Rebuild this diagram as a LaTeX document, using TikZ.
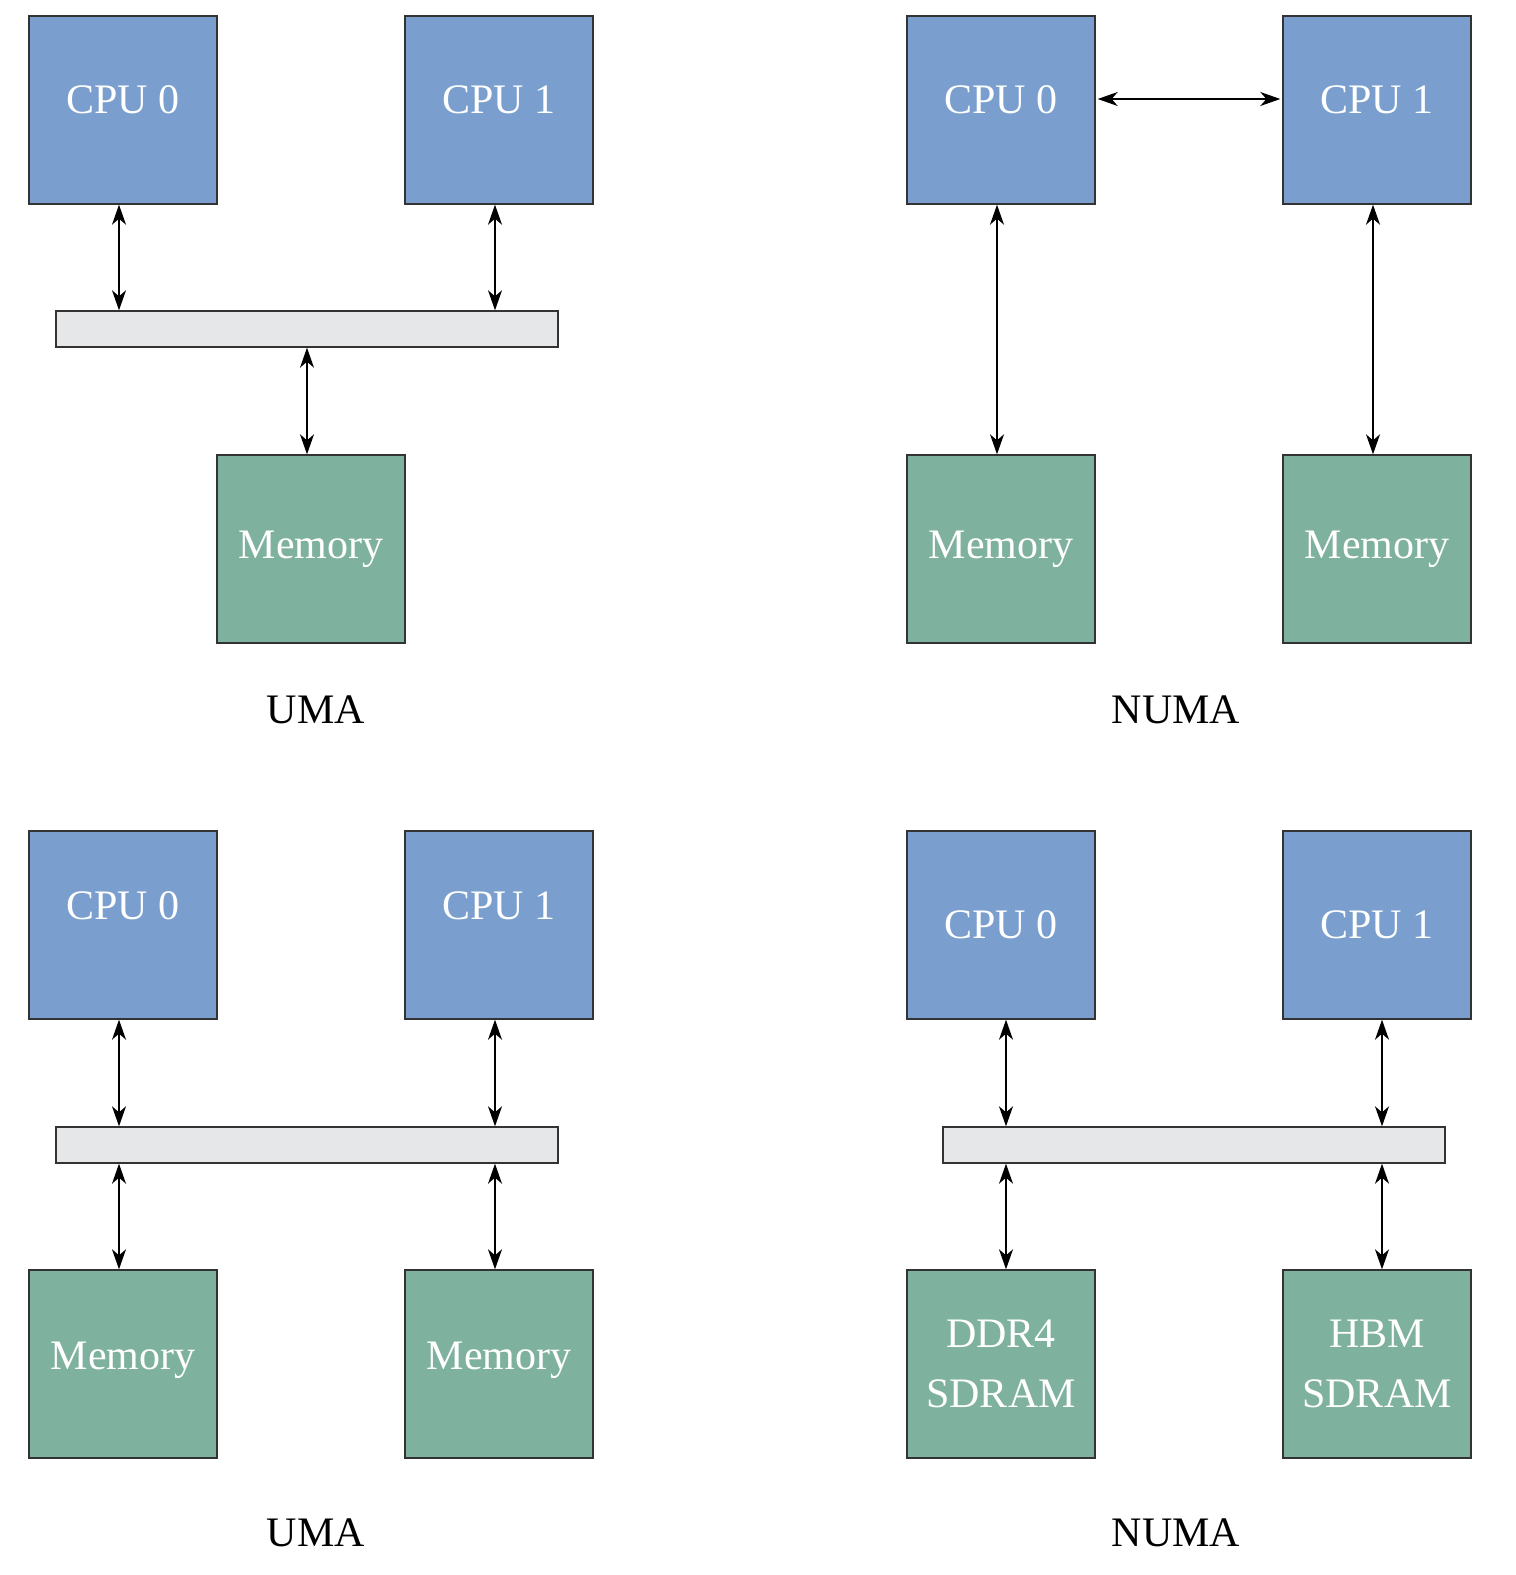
\documentclass[tikz,border=0pt]{standalone}
\usepackage{fontspec}
\setmainfont{Liberation Serif}
\usepackage{xcolor}
\usepackage{tikz}
\usetikzlibrary{arrows.meta, positioning}

\definecolor{cpublue}{HTML}{7A9FCE}
\definecolor{memgreen}{HTML}{7FB19F}
\definecolor{busgray}{HTML}{E6E7E8}
\definecolor{edgegray}{HTML}{333333}

\begin{document}
\begin{tikzpicture}[
    x=0.5pt, y=-0.5pt,
    cpu/.style={
        rectangle, draw=edgegray,
        line width=0.7pt,
        fill=cpublue,
        text=white,
        minimum width=94pt,
        minimum height=94pt,
        inner sep=0pt,
        font=\fontsize{21}{30}\selectfont
    },
    mem/.style={
        cpu,
        fill=memgreen,
        align=center
    },
    bus/.style={
        rectangle, draw=edgegray,
        line width=0.7pt,
        fill=busgray,
        minimum width=251pt,
        minimum height=18pt,
        inner sep=0pt
    },
    caption/.style={font=\fontsize{21}{25}\selectfont, inner sep=0pt},
    arrow/.style={{Stealth[length=10pt,width=7pt,inset=3pt]}-{Stealth[length=10pt,width=7pt,inset=3pt]}, line width=0.7pt}
]

\useasboundingbox (0,0) rectangle (1516,1575);

% UMA, shared memory
\node [cpu, text depth=10pt] (ua-cpu0) at (123,110) {CPU 0};
\node [cpu, text depth=10pt] (ua-cpu1) at (499,110) {CPU 1};
\node [bus] (ua-bus) at (307,329) {};
\node [mem] (ua-mem) at (311,549) {Memory};
\node [caption] (ua-label) at (316,710) {UMA};

\draw [arrow] ([xshift=-2pt]ua-cpu0.south) -- ([xshift=-2pt]ua-cpu0.south |- ua-bus.north);
\draw [arrow] ([xshift=-2pt]ua-cpu1.south) -- ([xshift=-2pt]ua-cpu1.south |- ua-bus.north);
\draw [arrow] ([xshift=-2pt]ua-mem.north |- ua-bus.south) -- ([xshift=-2pt]ua-mem.north);

% NUMA, local memories
\node [cpu, text depth=10pt] (na-cpu0) at (1001,110) {CPU 0};
\node [cpu, text depth=10pt] (na-cpu1) at (1377,110) {CPU 1};
\node [mem] (na-mem0) at (1001,549) {Memory};
\node [mem] (na-mem1) at (1377,549) {Memory};
\node [caption] (na-label) at (1176,710) {NUMA};

\draw [arrow] ([shift={(1pt,5.5pt)}]na-cpu0.east) -- ([shift={(-1pt,5.5pt)}]na-cpu1.west);
\draw [arrow] ([xshift=-2pt]na-cpu0.south) -- ([xshift=-2pt]na-mem0.north);
\draw [arrow] ([xshift=-2pt]na-cpu1.south) -- ([xshift=-2pt]na-mem1.north);

% UMA, two memories on the bus
\node [cpu, text depth=19pt] (ub-cpu0) at (123,925) {CPU 0};
\node [cpu, text depth=19pt] (ub-cpu1) at (499,925) {CPU 1};
\node [bus] (ub-bus) at (307,1145) {};
\node [mem, text depth=8pt] (ub-mem0) at (123,1364) {Memory};
\node [mem, text depth=8pt] (ub-mem1) at (499,1364) {Memory};
\node [caption] (ub-label) at (316,1533) {UMA};

\draw [arrow] ([xshift=-2pt]ub-cpu0.south) -- ([xshift=-2pt]ub-cpu0.south |- ub-bus.north);
\draw [arrow] ([xshift=-2pt]ub-cpu1.south) -- ([xshift=-2pt]ub-cpu1.south |- ub-bus.north);
\draw [arrow] ([xshift=-2pt]ub-mem0.north |- ub-bus.south) -- ([xshift=-2pt]ub-mem0.north);
\draw [arrow] ([xshift=-2pt]ub-mem1.north |- ub-bus.south) -- ([xshift=-2pt]ub-mem1.north);

% NUMA, DDR4 and HBM
\node [cpu] (nb-cpu0) at (1001,925) {CPU 0};
\node [cpu] (nb-cpu1) at (1377,925) {CPU 1};
\node [bus] (nb-bus) at (1194,1145) {};
\node [mem] (nb-mem0) at (1001,1364) {DDR4\\SDRAM};
\node [mem] (nb-mem1) at (1377,1364) {HBM\\SDRAM};
\node [caption] (nb-label) at (1176,1533) {NUMA};

\draw [arrow] ([xshift=2.5pt]nb-cpu0.south) -- ([xshift=2.5pt]nb-cpu0.south |- nb-bus.north);
\draw [arrow] ([xshift=2.5pt]nb-cpu1.south) -- ([xshift=2.5pt]nb-cpu1.south |- nb-bus.north);
\draw [arrow] ([xshift=2.5pt]nb-mem0.north |- nb-bus.south) -- ([xshift=2.5pt]nb-mem0.north);
\draw [arrow] ([xshift=2.5pt]nb-mem1.north |- nb-bus.south) -- ([xshift=2.5pt]nb-mem1.north);

\end{tikzpicture}
\end{document}
